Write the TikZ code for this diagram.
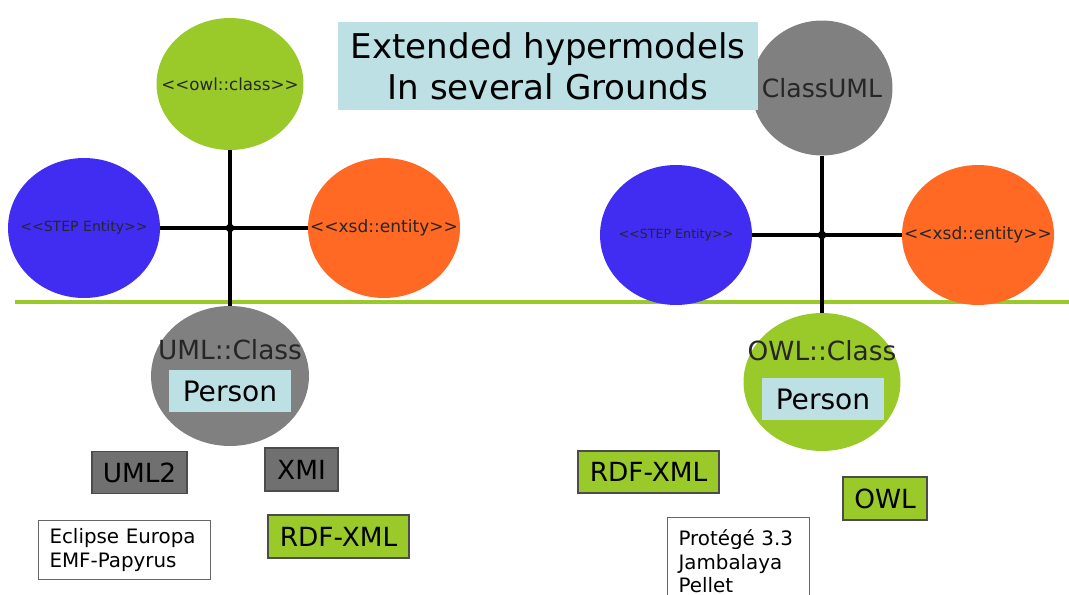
\documentclass[tikz,border=0pt]{standalone}
\usepackage{fontspec}
\setmainfont{DejaVu Sans}
\usepackage{xcolor}
\usetikzlibrary{shapes.geometric}
\definecolor{owlgreen}{RGB}{154,202,42}
\definecolor{stepblue}{RGB}{65,44,242}
\definecolor{xsdorange}{RGB}{255,105,35}
\definecolor{umlgray}{RGB}{128,128,128}
\definecolor{boxgray}{RGB}{112,112,112}
\definecolor{paleblue}{RGB}{188,224,228}
\newcommand{\stereo}[1]{<\kern0pt<#1>\kern0pt>}

\begin{document}
\begin{tikzpicture}[x=0.02cm, y=-0.02cm,
    blob/.style={ellipse, inner sep=0pt, minimum width=3.04cm, minimum height=2.8cm},
    blobtext/.style={inner sep=0pt, text=black!85},
    tag/.style={draw=black!70, line width=0.6pt, inner sep=0pt, minimum height=0.84cm, font=\fontsize{15}{18}\selectfont},
    personbox/.style={fill=paleblue, inner sep=0pt, minimum width=2.46cm, minimum height=0.84cm, font=\fontsize{16}{19}\selectfont},
    toolbox/.style={draw=black!60, fill=white, line width=0.6pt, align=left, anchor=north west, inner sep=0pt, font=\fontsize{11.3}{13.4}\selectfont},
    link/.style={line width=2.3pt}]

    \useasboundingbox (0,0) rectangle (1069,595);

    % Ground line
    \draw[owlgreen, line width=2.4pt] (15,302) coordinate (groundW) -- (1069,302) coordinate (groundE);

    % Left hypermodel
    \node[blob, fill=owlgreen, minimum width=2.94cm, minimum height=2.64cm] (owlL) at (230,84) {};
    \node[blobtext, font=\fontsize{9.5}{11}\selectfont] (owltextL) at (owlL) {\stereo{owl::class}};
    \node[blob, fill=stepblue] (stepL) at (84,228) {};
    \node[blobtext, font=\fontsize{8}{10}\selectfont] (steptextL) at (stepL) {\stereo{STEP Entity}};
    \node[blob, fill=xsdorange] (xsdL) at (384,228) {};
    \node[blobtext, font=\fontsize{9.7}{11}\selectfont] (xsdtextL) at (xsdL) {\stereo{xsd::entity}};
    \node[blob, fill=umlgray, minimum width=3.16cm, minimum height=2.8cm] (umlL) at (230,376) {};
    \node[blobtext, font=\fontsize{15}{18}\selectfont] (umlnameL) at (230,350) {UML::Class};
    \node[personbox] (personL) at (230,391) {Person};
    \coordinate (jL) at (owlL |- stepL);

    \draw[link] (owlL) -- (umlL);
    \draw[link] (stepL) -- (xsdL);
    \fill (jL) circle (2.4pt);

    % Right hypermodel
    \node[blob, fill=umlgray, minimum width=2.82cm, minimum height=2.7cm] (classR) at (822,88) {};
    \node[blobtext, font=\fontsize{14.3}{17}\selectfont] (classtextR) at (classR) {ClassUML};
    \node[blob, fill=stepblue] (stepR) at (676,235) {};
    \node[blobtext, font=\fontsize{7.2}{9}\selectfont] (steptextR) at (stepR) {\stereo{STEP Entity}};
    \node[blob, fill=xsdorange] (xsdR) at (978,235) {};
    \node[blobtext, font=\fontsize{9.7}{11}\selectfont] (xsdtextR) at (xsdR) {\stereo{xsd::entity}};
    \node[blob, fill=owlgreen, minimum width=3.14cm, minimum height=2.76cm] (owlR) at (822,382) {};
    \node[blobtext, font=\fontsize{15}{18}\selectfont] (owlnameR) at (822,351) {OWL::Class};
    \node[personbox] (personR) at (823,399) {Person};
    \coordinate (jR) at (classR |- stepR);

    \draw[link] (classR) -- (owlR);
    \draw[link] (stepR) -- (xsdR);
    \fill (jR) circle (2.4pt);

    % Title
    \node[fill=paleblue, minimum width=8.4cm, minimum height=1.76cm, align=center, font=\fontsize{19.4}{23.2}\selectfont] (title) at (548,66) {Extended hypermodels\\In several Grounds};

    % Formats and tools
    \node[tag, fill=boxgray, minimum width=1.9cm] (uml2) at (139.5,472.5) {UML2};
    \node[tag, fill=boxgray, minimum width=1.46cm, minimum height=0.86cm] (xmi) at (301.5,469.5) {XMI};
    \node[tag, fill=owlgreen, minimum width=2.82cm, minimum height=0.86cm] (rdfL) at (338.5,536.5) {RDF-XML};
    \node[tag, fill=owlgreen, minimum width=2.82cm] (rdfR) at (648.5,472) {RDF-XML};
    \node[tag, fill=owlgreen, minimum width=1.68cm, minimum height=0.86cm] (owlfmt) at (885,498.5) {OWL};
    \node[toolbox, minimum width=3.42cm, minimum height=1.18cm, text width=3.0cm, inner xsep=0.22cm] (eclipse) at (38,520) {Eclipse Europa\\EMF-Papyrus};
    \node[toolbox, minimum width=2.8cm, minimum height=1.75cm, text width=2.4cm, inner xsep=0.22cm, inner ysep=0.1cm] (protege) at (667,517) {Protégé 3.3\\Jambalaya\\Pellet};

\end{tikzpicture}
\end{document}
